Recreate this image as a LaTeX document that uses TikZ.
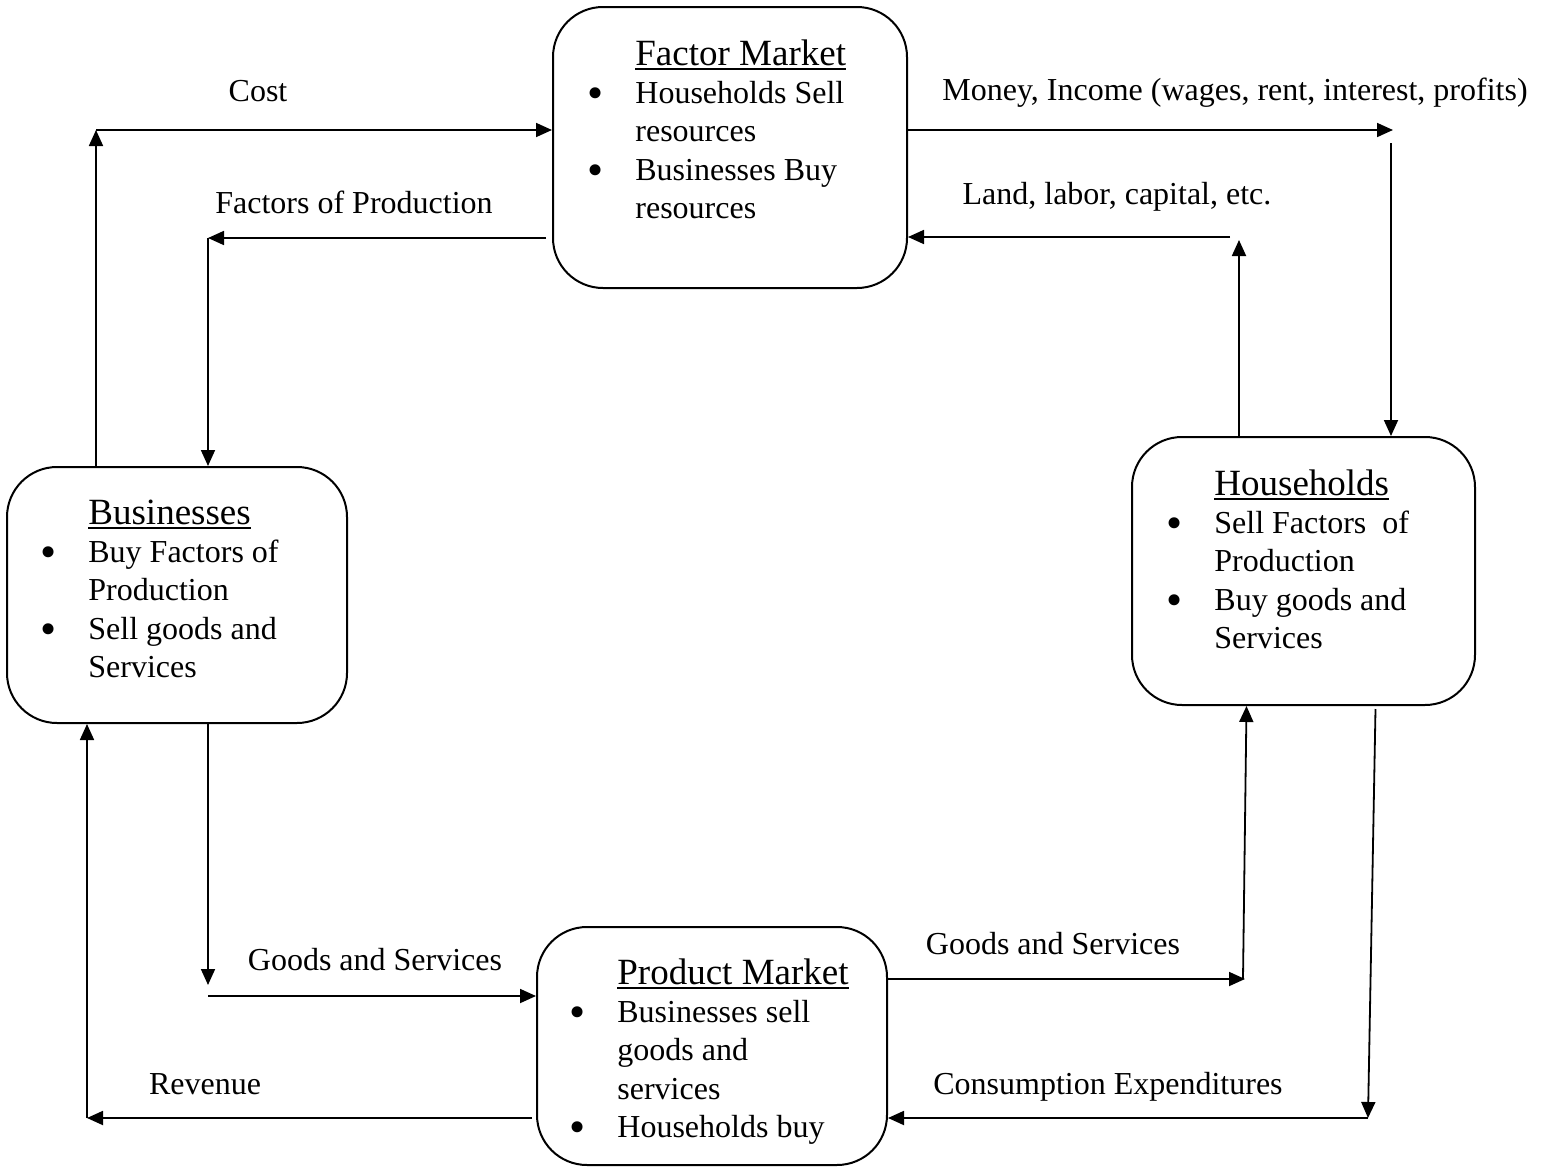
\documentclass[tikz,border=0pt]{standalone}
\usepackage{fontspec}
\setmainfont{Liberation Serif}
\usetikzlibrary{arrows.meta,positioning,calc}
\newcommand{\itm}{\llap{\makebox[24pt][l]{\raisebox{-2.5pt}{\fontsize{23}{0}\selectfont\textbullet}}}}
\newcommand{\mtitle}[1]{{\fontsize{18.5}{19.2}\selectfont\setbox0\hbox{#1}\rlap{\rule[-2.6pt]{\wd0}{0.9pt}}\box0}}

\begin{document}
\begin{tikzpicture}[x=0.5pt,y=-0.5pt, >={Triangle[length=8pt,width=7pt]},
   mkt/.style={draw, line width=1pt, rounded corners=25pt},
   mtxt/.style={anchor=base west, inner sep=0pt, font=\fontsize{16}{19.2}\selectfont},
   lbl/.style={anchor=base, inner sep=0pt, font=\fontsize{16}{19.2}\selectfont},
   flow/.style={->, line width=0.9pt}]
   \useasboundingbox (0,0) rectangle (1544,1167);
   \node[mkt, minimum width=177pt, minimum height=140.5pt] (fm) at (730,147.5) {};
   \node[mkt, minimum width=170pt, minimum height=128pt] (bus) at (177,595) {};
   \node[mkt, minimum width=171.5pt, minimum height=134pt] (hh) at (1303.5,571) {};
   \node[mkt, minimum width=175pt, minimum height=119pt] (pm) at (712,1046) {};
   \node[mtxt] (fmtxt) at (635,65) {\begin{tabular}[t]{@{}l@{}}\mtitle{Factor Market}\\ \itm Households Sell\\ resources\\ \itm Businesses Buy\\ resources\end{tabular}};
   \node[mtxt] (bustxt) at (88,524) {\begin{tabular}[t]{@{}l@{}}\mtitle{Businesses}\\ \itm Buy Factors of\\ Production\\ \itm Sell goods and\\ Services\end{tabular}};
   \node[mtxt] (hhtxt) at (1214,495) {\begin{tabular}[t]{@{}l@{}}\mtitle{Households}\\ \itm Sell Factors~ of\\ Production\\ \itm Buy goods and\\ Services\end{tabular}};
   \node[mtxt] (pmtxt) at (617,984) {\begin{tabular}[t]{@{}l@{}}\mtitle{Product Market}\\ \itm Businesses sell\\ goods and\\ services\\ \itm Households buy\end{tabular}};
   \coordinate (costc) at (96,130);
   \coordinate (fopc) at (208,238);
   \coordinate (monc) at (1393,130);
   \coordinate (monc2) at (1391,143);
   \coordinate (landc) at (1239,240);
   \coordinate (landc2) at (1230,237);
   \coordinate (gslc) at (208,985);
   \coordinate (gslc2) at (208,996);
   \coordinate (revc) at (87,1118);
   \coordinate (gsrc) at (1245,979);
   \coordinate (gsrc2) at (1243,979);
   \coordinate (cec) at (1368,1118);
   \draw[flow] (bus.north -| costc) -- (costc);
   \draw[flow] (costc) -- (costc -| fm.west);
   \draw[flow] ([xshift=-3pt]fm.west |- fopc) -- (fopc);
   \draw[flow] (fopc) -- (fopc |- bus.north);
   \draw[flow] (fm.east |- monc) -- (monc);
   \draw[flow] (monc2) -- (monc2 |- hh.north);
   \draw[flow] (hh.north -| landc) -- (landc);
   \draw[flow] (landc2) -- (landc2 -| fm.east);
   \draw[flow] (bus.south -| gslc) -- (gslc);
   \draw[flow] (gslc2) -- (gslc2 -| pm.west);
   \draw[flow] ([xshift=-2pt]pm.west |- revc) -- (revc);
   \draw[flow] (revc) -- (revc |- bus.south);
   \draw[flow] (pm.east |- gsrc) -- (gsrc);
   \draw[flow] (gsrc2) -- ([xshift=-28.5pt]hh.south);
   \draw[flow] ([xshift=36pt,yshift=-1.5pt]hh.south) -- (cec);
   \draw[flow] (cec) -- (cec -| pm.east);
   \node[lbl] (costlbl) at (258,101) {Cost};
   \node[lbl] (foplbl) at (354,213) {Factors of Production};
   \node[lbl] (monlbl) at (1235,100) {Money, Income (wages, rent, interest, profits)};
   \node[lbl] (landlbl) at (1117,204) {Land, labor, capital, etc.};
   \node[lbl] (gsllbl) at (375,970) {Goods and Services};
   \node[lbl] (gsrlbl) at (1053,954) {Goods and Services};
   \node[lbl] (revlbl) at (205,1094) {Revenue};
   \node[lbl] (celbl) at (1108,1094) {Consumption Expenditures};
\end{tikzpicture}
\end{document}
